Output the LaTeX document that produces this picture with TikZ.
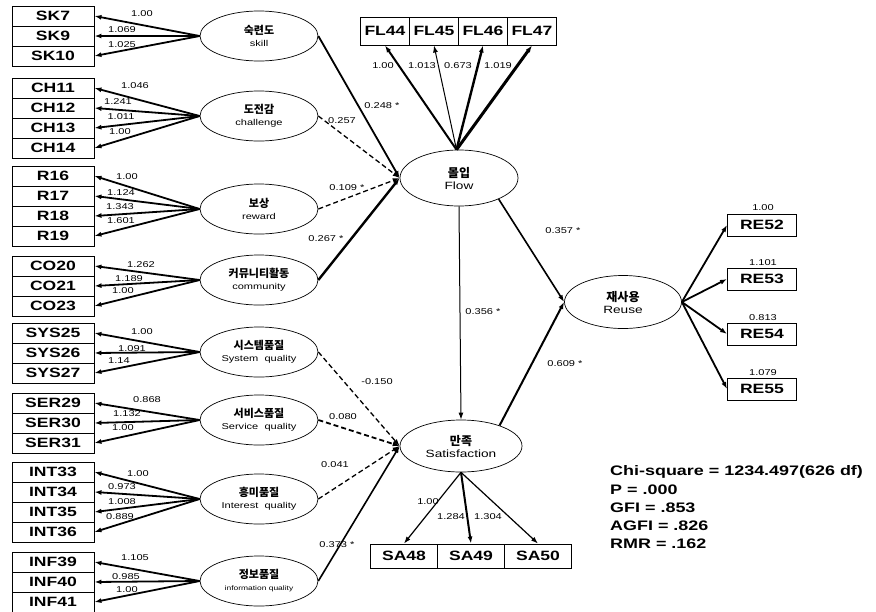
\documentclass[tikz,border=0pt]{standalone}
\usepackage{fontspec}
\usepackage{graphicx}
\setmainfont{Liberation Sans}
\newfontfamily\kr{Noto Sans CJK KR}
\usetikzlibrary{shapes.geometric,arrows.meta}
\newcommand{\wx}[1]{\scalebox{1.3}[1]{#1}}
\newcommand{\lt}[2]{{\kr\bfseries\fontsize{11}{13}\selectfont #1}\\[0pt]{\fontsize{8.5}{10}\selectfont\wx{#2}}}
\begin{document}
\begin{tikzpicture}[x=1pt,y=-1pt,
 ind/.style={draw, line width=0.9pt, minimum width=82pt, minimum height=20pt, inner sep=0pt, font=\bfseries\fontsize{13.5}{13.5}\selectfont},
 top/.style={draw, line width=0.9pt, minimum width=49pt, minimum height=28pt, inner sep=0pt, font=\bfseries\fontsize{13.5}{13.5}\selectfont},
 sab/.style={draw, line width=0.9pt, minimum width=67pt, minimum height=24pt, inner sep=0pt, font=\bfseries\fontsize{13.5}{13.5}\selectfont},
 reb/.style={draw, line width=0.9pt, minimum width=69pt, minimum height=22pt, inner sep=0pt, font=\bfseries\fontsize{13.5}{13.5}\selectfont},
 lat/.style={draw, ellipse, line width=0.7pt, minimum width=118pt, minimum height=50pt, inner sep=0pt, align=center},
 ar/.style={-{Latex[length=7pt,width=5pt]}},
 ldl/.style={ar, line width=1.8pt},
 dsh/.style={dash pattern=on 5pt off 3pt},
 lab/.style={inner sep=0pt, font=\fontsize{8.5}{9}\selectfont},
 stat/.style={inner sep=0pt, anchor=west, font=\bfseries\fontsize{13.8}{14}\selectfont}
]
\fill[white] (0,0) rectangle (876,611);
\useasboundingbox (0,0) rectangle (876,611);

% indicator boxes (left)
\node[ind] (sk7) at (53,16) {\wx{SK7}};
\node[ind] (sk9) at (53,36) {\wx{SK9}};
\node[ind] (sk10) at (53,56) {\wx{SK10}};
\node[ind] (ch11) at (53,88) {\wx{CH11}};
\node[ind] (ch12) at (53,108) {\wx{CH12}};
\node[ind] (ch13) at (53,128) {\wx{CH13}};
\node[ind] (ch14) at (53,148) {\wx{CH14}};
\node[ind] (r16) at (53,176) {\wx{R16}};
\node[ind] (r17) at (53,196) {\wx{R17}};
\node[ind] (r18) at (53,216) {\wx{R18}};
\node[ind] (r19) at (53,236) {\wx{R19}};
\node[ind] (co20) at (53,266) {\wx{CO20}};
\node[ind] (co21) at (53,286) {\wx{CO21}};
\node[ind] (co23) at (53,306) {\wx{CO23}};
\node[ind] (sys25) at (53,333) {\wx{SYS25}};
\node[ind] (sys26) at (53,353) {\wx{SYS26}};
\node[ind] (sys27) at (53,373) {\wx{SYS27}};
\node[ind] (ser29) at (53,403) {\wx{SER29}};
\node[ind] (ser30) at (53,423) {\wx{SER30}};
\node[ind] (ser31) at (53,443) {\wx{SER31}};
\node[ind] (int33) at (53,472) {\wx{INT33}};
\node[ind] (int34) at (53,492) {\wx{INT34}};
\node[ind] (int35) at (53,512) {\wx{INT35}};
\node[ind] (int36) at (53,532) {\wx{INT36}};
\node[ind] (inf39) at (53,562) {\wx{INF39}};
\node[ind] (inf40) at (53,582) {\wx{INF40}};
\node[ind] (inf41) at (53,602) {\wx{INF41}};

% latent ellipses
\node[lat] (sk) at (259,36) {\lt{숙련도}{skill}};
\node[lat] (ch) at (259,116) {\lt{도전감}{challenge}};
\node[lat] (rw) at (259,209) {\lt{보상}{reward}};
\node[lat] (co) at (259,280) {\lt{커뮤니티활동}{community}};
\node[lat] (sys) at (259,352) {\lt{시스템품질}{System\ \ quality}};
\node[lat] (ser) at (259,420) {\lt{서비스품질}{Service\ \ quality}};
\node[lat] (int) at (259,499) {\lt{흥미품질}{Interest\ \ quality}};
\node[lat] (inf) at (259,581) {{\kr\bfseries\fontsize{11}{13}\selectfont 정보품질}\\[0pt]{\fontsize{6.5}{9}\selectfont\wx{information quality}}};

\node[lat, minimum width=118pt, minimum height=56pt] (flow) at (459,178)
  {{\kr\bfseries\fontsize{12}{14}\selectfont 몰입}\\{\fontsize{10.5}{12}\selectfont\wx{Flow}}};
\node[lat, minimum width=122pt, minimum height=52pt] (sat) at (461,446)
  {{\kr\bfseries\fontsize{12}{14}\selectfont 만족}\\{\fontsize{10.5}{12}\selectfont\wx{Satisfaction}}};
\node[lat, minimum width=117pt, minimum height=53pt] (reuse) at (623,302)
  {{\kr\bfseries\fontsize{12}{14}\selectfont 재사용}\\{\fontsize{10.5}{12}\selectfont\wx{Reuse}}};

% top / bottom / right boxes
\node[top] (fl44) at (385,31) {\wx{FL44}};
\node[top] (fl45) at (434,31) {\wx{FL45}};
\node[top] (fl46) at (483,31) {\wx{FL46}};
\node[top] (fl47) at (532,31) {\wx{FL47}};
\node[sab] (sa48) at (404,556) {\wx{SA48}};
\node[sab] (sa49) at (471,556) {\wx{SA49}};
\node[sab] (sa50) at (538,556) {\wx{SA50}};
\node[reb] (re52) at (762,225) {\wx{RE52}};
\node[reb] (re53) at (762,279) {\wx{RE53}};
\node[reb] (re54) at (762,334) {\wx{RE54}};
\node[reb] (re55) at (762,389) {\wx{RE55}};

% measurement arrows (left)
\foreach \l/\b in {sk/sk7,sk/sk9,sk/sk10,ch/ch11,ch/ch12,ch/ch13,ch/ch14,rw/r16,rw/r17,rw/r18,rw/r19,co/co20,co/co21,co/co23,sys/sys25,sys/sys26,sys/sys27,ser/ser29,ser/ser30,ser/ser31,int/int33,int/int34,int/int35,int/int36,inf/inf39,inf/inf40,inf/inf41}
  \draw[ldl] (\l.west) -- (\b.east);

% measurement arrows (flow, sat, reuse)
\draw[ar, line width=2pt] (flow.95) -- (fl44.south);
\draw[ar, line width=1pt] (flow.95) -- (fl45.south);
\draw[ar, line width=2.4pt] (flow.95) -- (fl46.south);
\draw[ar, line width=3pt] (flow.95) -- (fl47.south);
\draw[ar, line width=1.2pt] (sat.south) -- (sa48.north);
\draw[ar, line width=2pt] (sat.south) -- (sa49.north);
\draw[ar, line width=1.2pt] (sat.south) -- (sa50.north);
\draw[ldl] (reuse.east) -- (re52.west);
\draw[ldl] (reuse.east) -- (re53.west);
\draw[ldl] (reuse.east) -- (re54.west);
\draw[ldl] (reuse.east) -- (re55.west);

% structural paths
\draw[ar, line width=1.8pt] (sk.east) -- (flow.west);
\draw[ar, line width=1.3pt, dsh] (ch.east) -- (flow.west);
\draw[ar, line width=1.3pt, dsh] (rw.east) -- (flow.west);
\draw[ar, line width=2.4pt] (co.east) -- (flow.west);
\draw[ar, line width=1pt] (flow.south) -- (sat.north);
\draw[ar, line width=1.6pt] (flow.-28) -- (reuse.west);
\draw[ar, line width=2pt] (sat.28) -- (reuse.west);
\draw[ar, line width=1.3pt, dsh] (sys.east) -- (sat.west);
\draw[ar, line width=1.8pt, dsh] (ser.east) -- (sat.west);
\draw[ar, line width=1.3pt, dsh] (int.east) -- (sat.west);
\draw[ar, line width=1.6pt] (inf.east) -- (sat.west);

% loading labels (left)
\node[lab] (l1) at (142,14) {\wx{1.00}};
\node[lab] (l2) at (122,30) {\wx{1.069}};
\node[lab] (l3) at (122,45) {\wx{1.025}};
\node[lab] (l4) at (135,86) {\wx{1.046}};
\node[lab] (l5) at (118,102) {\wx{1.241}};
\node[lab] (l6) at (121,117) {\wx{1.011}};
\node[lab] (l7) at (120,132) {\wx{1.00}};
\node[lab] (l8) at (127,177) {\wx{1.00}};
\node[lab] (l9) at (121,193) {\wx{1.124}};
\node[lab] (l10) at (120,207) {\wx{1.343}};
\node[lab] (l11) at (121,221) {\wx{1.601}};
\node[lab] (l12) at (141,265) {\wx{1.262}};
\node[lab] (l13) at (129,279) {\wx{1.189}};
\node[lab] (l14) at (123,291) {\wx{1.00}};
\node[lab] (l15) at (142,332) {\wx{1.00}};
\node[lab] (l16) at (132,349) {\wx{1.091}};
\node[lab] (l17) at (119,361) {\wx{1.14}};
\node[lab] (l18) at (147,400) {\wx{0.868}};
\node[lab] (l19) at (127,414) {\wx{1.132}};
\node[lab] (l20) at (123,428) {\wx{1.00}};
\node[lab] (l21) at (138,474) {\wx{1.00}};
\node[lab] (l22) at (122,487) {\wx{0.973}};
\node[lab] (l23) at (122,502) {\wx{1.008}};
\node[lab] (l24) at (120,517) {\wx{0.889}};
\node[lab] (l25) at (135,558) {\wx{1.105}};
\node[lab] (l26) at (126,577) {\wx{0.985}};
\node[lab] (l27) at (127,590) {\wx{1.00}};

% loading labels (flow, sat, reuse)
\node[lab] (f1) at (383,66) {\wx{1.00}};
\node[lab] (f2) at (422,66) {\wx{1.013}};
\node[lab] (f3) at (458,66) {\wx{0.673}};
\node[lab] (f4) at (498,66) {\wx{1.019}};
\node[lab] (s1) at (428,502) {\wx{1.00}};
\node[lab] (s2) at (451,517) {\wx{1.284}};
\node[lab] (s3) at (488,517) {\wx{1.304}};
\node[lab] (r1) at (763,208) {\wx{1.00}};
\node[lab] (r2) at (763,263) {\wx{1.101}};
\node[lab] (r3) at (763,318) {\wx{0.813}};
\node[lab] (r4) at (763,373) {\wx{1.079}};

% path labels
\node[lab] (p1) at (382,106) {\wx{0.248 *}};
\node[lab] (p2) at (342,121) {\wx{0.257}};
\node[lab] (p3) at (347,188) {\wx{0.109 *}};
\node[lab] (p4) at (326,239) {\wx{0.267 *}};
\node[lab] (p5) at (483,312) {\wx{0.356 *}};
\node[lab] (p6) at (563,231) {\wx{0.357 *}};
\node[lab] (p7) at (565,364) {\wx{0.609 *}};
\node[lab] (p8) at (377,382) {\wx{-0.150}};
\node[lab] (p9) at (343,417) {\wx{0.080}};
\node[lab] (p10) at (335,465) {\wx{0.041}};
\node[lab] (p11) at (337,545) {\wx{0.373 *}};

% fit statistics
\node[stat] (c1) at (610,472) {\wx{Chi-square = 1234.497(626 df)}};
\node[stat] (c2) at (610,490) {\wx{P = .000}};
\node[stat] (c3) at (610,508) {\wx{GFI = .853}};
\node[stat] (c4) at (610,526) {\wx{AGFI = .826}};
\node[stat] (c5) at (610,544) {\wx{RMR = .162}};
\end{tikzpicture}
\end{document}
